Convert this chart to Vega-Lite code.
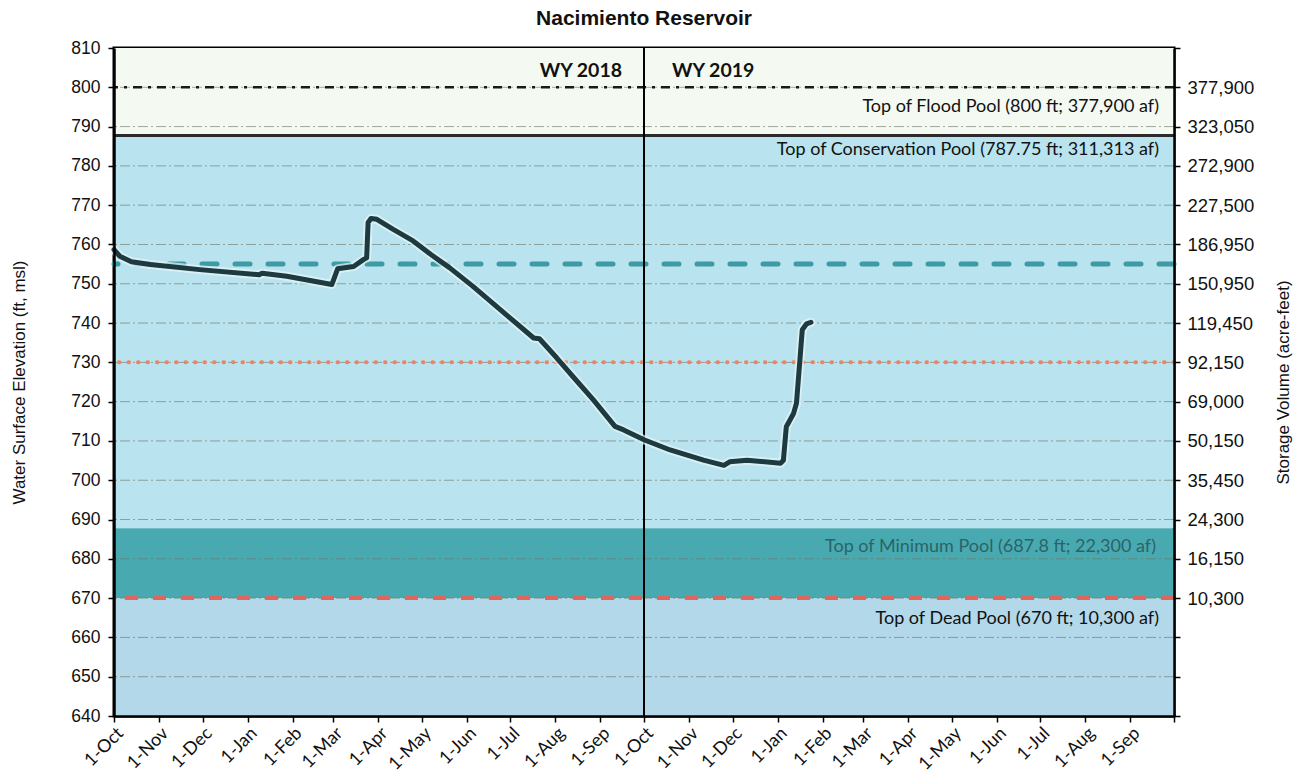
{
  "$schema": "https://vega.github.io/schema/vega-lite/v6.json",
  "width": 1060,
  "height": 668,
  "autosize": "none",
  "padding": {"left": 114, "top": 48, "right": 129, "bottom": 62},
  "background": "white",
  "title": {"text": "Nacimiento Reservoir", "font": "Liberation Sans", "fontSize": 21, "fontWeight": "bold", "color": "#111", "anchor": "middle", "offset": 10},
  "config": {"view": {"stroke": "#000", "strokeWidth": 3}},
  "datasets": {
    "bands": [
      {"zone": "flood", "lo": 787.75, "hi": 810},
      {"zone": "conservation", "lo": 687.8, "hi": 787.75},
      {"zone": "minimum", "lo": 670, "hi": 687.8},
      {"zone": "dead", "lo": 640, "hi": 670}
    ],
    "grid": [
      {"elev": 650}, {"elev": 660}, {"elev": 670}, {"elev": 680}, {"elev": 690}, {"elev": 700},
      {"elev": 710}, {"elev": 720}, {"elev": 730}, {"elev": 740}, {"elev": 750}, {"elev": 760},
      {"elev": 770}, {"elev": 780}, {"elev": 790}, {"elev": 800}
    ],
    "elevation": [
      {"date": "2017/10/01", "elev": 758.7},
      {"date": "2017/10/05", "elev": 757.0},
      {"date": "2017/10/13", "elev": 755.6},
      {"date": "2017/10/26", "elev": 754.9},
      {"date": "2017/11/29", "elev": 753.6},
      {"date": "2018/01/09", "elev": 752.3},
      {"date": "2018/01/11", "elev": 752.7},
      {"date": "2018/01/28", "elev": 751.9},
      {"date": "2018/02/28", "elev": 749.8},
      {"date": "2018/03/04", "elev": 753.8},
      {"date": "2018/03/15", "elev": 754.4},
      {"date": "2018/03/22", "elev": 756.2},
      {"date": "2018/03/24", "elev": 756.6},
      {"date": "2018/03/25", "elev": 765.6},
      {"date": "2018/03/27", "elev": 766.6},
      {"date": "2018/03/31", "elev": 766.4},
      {"date": "2018/04/11", "elev": 763.9},
      {"date": "2018/04/25", "elev": 760.9},
      {"date": "2018/05/07", "elev": 757.5},
      {"date": "2018/05/20", "elev": 754.1},
      {"date": "2018/06/05", "elev": 749.4},
      {"date": "2018/06/24", "elev": 743.4},
      {"date": "2018/07/17", "elev": 736.2},
      {"date": "2018/07/21", "elev": 736.0},
      {"date": "2018/08/02", "elev": 731.1},
      {"date": "2018/08/13", "elev": 726.4},
      {"date": "2018/08/27", "elev": 720.5},
      {"date": "2018/09/11", "elev": 713.7},
      {"date": "2018/09/17", "elev": 712.8},
      {"date": "2018/10/01", "elev": 710.3},
      {"date": "2018/10/19", "elev": 707.7},
      {"date": "2018/11/11", "elev": 705.1},
      {"date": "2018/11/25", "elev": 703.8},
      {"date": "2018/11/29", "elev": 704.7},
      {"date": "2018/12/11", "elev": 705.1},
      {"date": "2019/01/03", "elev": 704.3},
      {"date": "2019/01/05", "elev": 705.1},
      {"date": "2019/01/07", "elev": 713.6},
      {"date": "2019/01/12", "elev": 717.0},
      {"date": "2019/01/14", "elev": 719.6},
      {"date": "2019/01/16", "elev": 728.9},
      {"date": "2019/01/18", "elev": 738.3},
      {"date": "2019/01/21", "elev": 739.8},
      {"date": "2019/01/24", "elev": 740.2}
    ],
    "notes": [
      {"date": "2019/10/01", "elev": 795.0, "label": "Top of Flood Pool (800 ft; 377,900 af)"},
      {"date": "2019/10/01", "elev": 784.0, "label": "Top of Conservation Pool (787.75 ft; 311,313 af)"},
      {"date": "2019/10/01", "elev": 664.7, "label": "Top of Dead Pool (670 ft; 10,300 af)"}
    ]
  },
  "layer": [
    {
      "data": {"name": "bands"},
      "mark": {"type": "rect"},
      "encoding": {
        "y": {"field": "lo", "type": "quantitative", "scale": {"domain": [640, 810], "nice": false, "zero": false},
          "axis": {"orient": "left", "values": [640,650,660,670,680,690,700,710,720,730,740,750,760,770,780,790,800,810],
            "title": "Water Surface Elevation (ft, msl)", "titleFont": "Liberation Sans", "titleFontSize": 17, "titleFontWeight": "normal", "titleColor": "#111", "titlePadding": 42,
            "labelFont": "Liberation Sans", "labelFontSize": 17.5, "labelColor": "#111", "labelPadding": 8,
            "tickColor": "#000", "tickSize": 6, "tickWidth": 1.5, "domainColor": "#000", "domainWidth": 2.5, "grid": false, "zindex": 1}},
        "y2": {"field": "hi"},
        "color": {"field": "zone", "type": "nominal", "legend": null,
          "scale": {"domain": ["flood", "conservation", "minimum", "dead"], "range": ["#f4f9f2", "#b9e3ee", "#48aab0", "#b3d8ea"]}}
      }
    },
    {
      "data": {"name": "grid"},
      "mark": {"type": "rule", "color": "#6b7263", "strokeWidth": 1, "opacity": 0.6, "strokeDash": [10, 3, 2, 3]},
      "encoding": {"y": {"field": "elev", "type": "quantitative", "scale": {"domain": [640, 810], "nice": false, "zero": false}, "axis": null}}
    },
    {
      "data": {"values": [{"elev": 800}]},
      "mark": {"type": "rule", "color": "#1a1a1a", "strokeWidth": 2.5, "strokeDash": [9, 6, 3, 6]},
      "encoding": {"y": {"field": "elev", "type": "quantitative", "scale": {"domain": [640, 810], "nice": false, "zero": false}, "axis": null}}
    },
    {
      "data": {"values": [{"elev": 787.75}]},
      "mark": {"type": "rule", "color": "#2b2b2b", "strokeWidth": 3},
      "encoding": {"y": {"field": "elev", "type": "quantitative", "scale": {"domain": [640, 810], "nice": false, "zero": false}, "axis": null}}
    },
    {
      "data": {"values": [{"elev": 755}]},
      "mark": {"type": "rule", "color": "#3e9aa3", "strokeWidth": 5, "strokeCap": "round", "strokeDash": [15, 18]},
      "encoding": {"y": {"field": "elev", "type": "quantitative", "scale": {"domain": [640, 810], "nice": false, "zero": false}, "axis": null}}
    },
    {
      "data": {"values": [{"elev": 730}]},
      "mark": {"type": "rule", "color": "#f0825f", "strokeWidth": 4, "strokeCap": "round", "strokeDash": [0.5, 9]},
      "encoding": {"y": {"field": "elev", "type": "quantitative", "scale": {"domain": [640, 810], "nice": false, "zero": false}, "axis": null}}
    },
    {
      "data": {"values": [{"elev": 670}]},
      "mark": {"type": "rule", "color": "#e0665c", "strokeWidth": 4, "strokeDash": [13, 15]},
      "encoding": {"y": {"field": "elev", "type": "quantitative", "scale": {"domain": [640, 810], "nice": false, "zero": false}, "axis": null}}
    },
    {
      "data": {"values": [{"date": "2018/10/01"}]},
      "mark": {"type": "rule", "color": "#000", "strokeWidth": 2},
      "encoding": {"x": {"field": "date", "type": "temporal"}}
    },
    {
      "data": {"name": "elevation"},
      "mark": {"type": "line", "color": "#e6f5f7", "strokeWidth": 9, "opacity": 0.7, "strokeJoin": "round", "strokeCap": "round"},
      "encoding": {
        "x": {"field": "date", "type": "temporal"},
        "y": {"field": "elev", "type": "quantitative", "scale": {"domain": [640, 810], "nice": false, "zero": false}, "axis": null}
      }
    },
    {
      "data": {"name": "elevation"},
      "mark": {"type": "line", "color": "#1d3a40", "strokeWidth": 5, "strokeJoin": "round", "strokeCap": "round"},
      "encoding": {
        "x": {"field": "date", "type": "temporal",
          "scale": {"domain": [{"year": 2017, "month": 10, "date": 1}, {"year": 2019, "month": 10, "date": 1}]},
          "axis": {"tickCount": {"interval": "month", "step": 1}, "format": "%-d-%b",
            "labelExpr": "datum.value >= datetime(2019, 8, 15) ? '' : datum.label",
            "labelOverlap": false, "labelBound": false, "labelFlush": false,
            "labelAngle": -45, "labelFont": "Lato", "labelFontSize": 18, "labelColor": "#111", "labelPadding": 2,
            "title": null, "tickSize": 6, "tickWidth": 1.5, "tickColor": "#000", "domainColor": "#000", "domainWidth": 2.5, "grid": false, "zindex": 1}},
        "y": {"field": "elev", "type": "quantitative", "scale": {"domain": [640, 810], "nice": false, "zero": false},
          "axis": {"orient": "right", "values": [640,650,660,670,680,690,700,710,720,730,740,750,760,770,780,790,800,810],
            "labelExpr": "datum.value==800?'377,900':datum.value==790?'323,050':datum.value==780?'272,900':datum.value==770?'227,500':datum.value==760?'186,950':datum.value==750?'150,950':datum.value==740?'119,450':datum.value==730?'92,150':datum.value==720?'69,000':datum.value==710?'50,150':datum.value==700?'35,450':datum.value==690?'24,300':datum.value==680?'16,150':datum.value==670?'10,300':''",
            "title": "Storage Volume (acre-feet)", "titleAngle": 270, "titleBaseline": "top", "titleFont": "Liberation Sans", "titleFontSize": 17, "titleFontWeight": "normal", "titleColor": "#111", "titlePadding": 22,
            "labelFont": "Liberation Sans", "labelFontSize": 18.5, "labelColor": "#111", "labelPadding": 7,
            "tickColor": "#000", "tickSize": 6, "tickWidth": 1.5, "domainColor": "#000", "domainWidth": 2.5, "grid": false, "zindex": 1}}
      }
    },
    {
      "data": {"values": [{"date": "2018/10/01", "elev": 804.1, "label": "WY 2018"}]},
      "mark": {"type": "text", "align": "right", "baseline": "middle", "dx": -22, "font": "Lato", "fontSize": 19.5, "fontWeight": "bold", "color": "#111"},
      "encoding": {
        "x": {"field": "date", "type": "temporal"},
        "y": {"field": "elev", "type": "quantitative", "scale": {"domain": [640, 810], "nice": false, "zero": false}, "axis": null},
        "text": {"field": "label"}
      }
    },
    {
      "data": {"values": [{"date": "2018/10/01", "elev": 804.1, "label": "WY 2019"}]},
      "mark": {"type": "text", "align": "left", "baseline": "middle", "dx": 28, "font": "Lato", "fontSize": 19.5, "fontWeight": "bold", "color": "#111"},
      "encoding": {
        "x": {"field": "date", "type": "temporal"},
        "y": {"field": "elev", "type": "quantitative", "scale": {"domain": [640, 810], "nice": false, "zero": false}, "axis": null},
        "text": {"field": "label"}
      }
    },
    {
      "data": {"name": "notes"},
      "mark": {"type": "text", "align": "right", "baseline": "middle", "dx": -15, "font": "Lato", "fontSize": 18, "color": "#111"},
      "encoding": {
        "x": {"field": "date", "type": "temporal"},
        "y": {"field": "elev", "type": "quantitative", "scale": {"domain": [640, 810], "nice": false, "zero": false}, "axis": null},
        "text": {"field": "label"}
      }
    },
    {
      "data": {"values": [{"date": "2019/10/01", "elev": 683.0, "label": "Top of Minimum Pool (687.8 ft; 22,300 af)"}]},
      "mark": {"type": "text", "align": "right", "baseline": "middle", "dx": -18, "font": "Lato", "fontSize": 18, "color": "#2a646a"},
      "encoding": {
        "x": {"field": "date", "type": "temporal"},
        "y": {"field": "elev", "type": "quantitative", "scale": {"domain": [640, 810], "nice": false, "zero": false}, "axis": null},
        "text": {"field": "label"}
      }
    }
  ],
  "resolve": {"scale": {"y": "independent"}}
}
